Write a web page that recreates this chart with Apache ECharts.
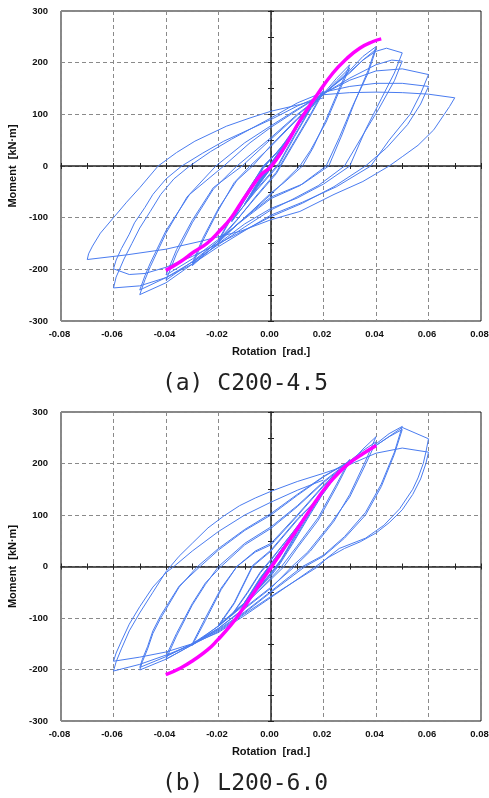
<!DOCTYPE html>
<html>
<head>
<meta charset="utf-8">
<script src="https://cdn.jsdelivr.net/npm/echarts@6/dist/echarts.min.js"></script>
<style>
html,body{margin:0;padding:0;background:#fff;}
#chart{width:489px;height:798px;}
</style>
</head>
<body>
<div id="chart"></div>
<script>
// ---------- data (rotation [rad], moment [kN·m]) ----------
const captionA = '(a) C200-4.5';
const captionB = '(b) L200-6.0';
const xName = 'Rotation  [rad.]';
const yName = 'Moment  [kN·m]';

const loopA = [
 [0,0],
 [0.004,30],[0.001,6],[-0.004,-30],[-0.001,-6],
 [0.004,30],[0.001,5],[-0.004,-29],[-0.001,-5],
 [0.005,38],[0.0015,9],[-0.005,-37],[-0.0015,-8],
 [0.005,37],[0.0015,8],[-0.005,-36],[-0.0015,-8],
 [0.0075,57],[0.003,19],[-0.0075,-55],[-0.003,-18],
 [0.0075,56],[0.003,18],[-0.0075,-54],[-0.003,-17],
 [0.01,76],[0.004,24],[-0.01,-74],[-0.004,-23],
 [0.01,75],[0.004,23],[-0.01,-73],[-0.004,-22],
 [0.015,112],[0.009,60],[0.003,5],[-0.006,-48],[-0.015,-108],[-0.009,-58],[-0.003,-5],[0.006,50],
 [0.015,110],[0.009,57],[0.003,2],[-0.006,-50],[-0.015,-106],[-0.009,-56],[-0.003,-3],[0.006,48],
 [0.013,100],[0.02,146],[0.015,100],[0.008,40],[0.002,-12],[-0.006,-60],[-0.013,-105],[-0.02,-146],
 [-0.015,-100],[-0.008,-42],[-0.003,0],[0.003,30],[0.012,95],[0.02,143],
 [0.015,97],[0.008,37],[0.002,-15],[-0.006,-62],[-0.013,-104],[-0.02,-143],
 [-0.015,-98],[-0.008,-40],[-0.003,-2],[0.004,35],[0.012,92],[0.02,140],
 [0.025,170],[0.03,196],[0.026,150],[0.021,90],[0.016,35],[0.012,0],[0.005,-32],[0,-52],[-0.01,-100],[-0.02,-148],[-0.03,-193],
 [-0.026,-145],[-0.02,-85],[-0.014,-32],[-0.008,0],[0,38],[0.01,90],[0.02,138],[0.025,165],[0.03,190],
 [0.026,145],[0.021,85],[0.015,30],[0.011,0],[0.004,-35],[0,-55],[-0.01,-100],[-0.02,-145],[-0.03,-188],
 [-0.026,-140],[-0.02,-82],[-0.013,-28],[-0.007,0],[0,40],[0.01,92],[0.02,138],
 [0.03,185],[0.035,212],[0.04,231],
 [0.037,185],[0.032,125],[0.027,60],[0.022,0],[0.012,-35],[0,-60],[-0.01,-100],[-0.02,-145],[-0.03,-185],[-0.04,-221],
 [-0.036,-170],[-0.03,-110],[-0.022,-45],[-0.013,0],[0,55],[0.01,100],[0.02,140],[0.03,182],[0.035,205],[0.04,226],
 [0.037,180],[0.031,115],[0.026,55],[0.021,0],[0.011,-38],[0,-63],[-0.01,-102],[-0.02,-142],[-0.03,-180],[-0.04,-211],
 [-0.036,-162],[-0.03,-105],[-0.022,-42],[-0.011,0],[0,52],[0.01,98],[0.02,140],[0.03,180],
 [0.035,205],[0.04,222],[0.044,228],[0.05,219],
 [0.047,180],[0.042,130],[0.036,70],[0.03,0],[0.02,-35],[0.01,-62],[0,-82],[-0.01,-112],[-0.02,-150],[-0.03,-190],[-0.04,-226],[-0.05,-249],
 [-0.048,-220],[-0.046,-195],[-0.04,-130],[-0.032,-60],[-0.021,0],[-0.01,45],[0,78],[0.01,110],[0.02,140],[0.03,170],[0.04,196],[0.046,205],[0.05,203],
 [0.047,165],[0.041,110],[0.035,60],[0.028,0],[0.018,-38],[0.008,-65],[0,-85],[-0.01,-118],[-0.02,-152],[-0.03,-186],[-0.04,-216],[-0.05,-240],
 [-0.048,-212],[-0.046,-188],[-0.04,-125],[-0.031,-55],[-0.018,0],[-0.008,45],[0,75],[0.01,108],[0.02,140],
 [0.03,166],[0.04,184],[0.05,188],[0.06,177],
 [0.057,140],[0.053,100],[0.045,50],[0.038,0],[0.025,-40],[0.012,-70],[0,-95],[-0.01,-125],[-0.02,-156],[-0.03,-190],[-0.04,-216],[-0.05,-232],[-0.06,-236],
 [-0.059,-215],[-0.056,-180],[-0.053,-150],[-0.05,-120],[-0.046,-88],[-0.042,-55],[-0.037,-25],[-0.031,0],[-0.023,28],[-0.015,52],[0,93],[0.01,122],[0.02,143],[0.03,154],[0.04,160],[0.05,160],[0.06,154],
 [0.057,120],[0.052,80],[0.044,35],[0.036,0],[0.024,-40],[0.012,-72],[0,-98],[-0.01,-124],[-0.02,-150],[-0.03,-175],[-0.04,-196],[-0.048,-208],[-0.054,-210],[-0.06,-199],
 [-0.059,-182],[-0.057,-160],[-0.054,-132],[-0.052,-110],[-0.048,-80],[-0.045,-55],[-0.04,-25],[-0.034,0],[-0.026,25],[-0.018,48],[0,90],[0.01,116],[0.02,138],
 [0.03,142],[0.04,143],[0.05,142],[0.06,139],[0.07,132],
 [0.068,115],[0.066,100],[0.062,70],[0.056,40],[0.05,18],[0.045,0],[0.035,-30],[0.024,-55],[0.011,-88],[0,-104],[-0.0115,-126],[-0.027,-146],[-0.04,-161],[-0.055,-172],[-0.07,-181],
 [-0.0695,-170],[-0.068,-155],[-0.065,-130],[-0.06,-100],[-0.055,-70],[-0.05,-42],[-0.043,0],[-0.036,26],[-0.029,48],[-0.017,77],[-0.008,93],[0,106],[0.011,119],[0.02,132]
];

const backboneA = [
 [-0.0401,-202],[-0.0344,-185],[-0.0293,-166],[-0.0242,-149],[-0.0191,-123],[-0.0153,-101],
 [-0.0115,-72],[-0.0076,-43],[-0.0038,-17],[0,-1],[0.0057,41],[0.0108,86],[0.0172,135],
 [0.0236,180],[0.0287,207],[0.0338,228],[0.0389,241],[0.042,246]
];

const loopB = [
 [0,0],
 [0.004,30],[0.001,6],[-0.004,-29],[-0.001,-6],
 [0.004,30],[0.001,6],[-0.004,-29],[-0.001,-5],
 [0.005,38],[0.0015,9],[-0.005,-36],[-0.0015,-8],
 [0.005,37],[0.0015,8],[-0.005,-36],[-0.0015,-8],
 [0.0075,57],[0.003,19],[-0.0075,-53],[-0.003,-17],
 [0.0075,56],[0.003,18],[-0.0075,-52],[-0.003,-16],
 [0.01,76],[0.004,25],[-0.01,-70],[-0.004,-22],
 [0.01,75],[0.004,24],[-0.01,-69],[-0.004,-21],
 [0.008,58],[0.015,110],[0.01,68],[0.004,15],[0,-12],[-0.007,-55],[-0.015,-95],[-0.009,-52],[-0.004,-12],[0,12],[0.007,58],
 [0.015,108],[0.01,66],[0.004,13],[0,-14],[-0.007,-56],[-0.015,-94],[-0.009,-50],[-0.004,-10],[0,14],[0.007,58],
 [0.014,105],[0.02,146],[0.015,105],[0.008,45],[0.003,5],[0,-15],[-0.01,-70],[-0.02,-116],
 [-0.014,-72],[-0.007,0],[0,30],[0.01,90],[0.02,143],
 [0.015,102],[0.008,42],[0.003,2],[0,-18],[-0.01,-70],[-0.02,-114],
 [-0.014,-70],[-0.007,2],[0,32],[0.01,92],[0.02,142],
 [0.025,178],[0.03,208],[0.025,160],[0.018,95],[0.01,40],[0.004,0],[0,-22],[-0.01,-72],[-0.02,-115],[-0.03,-153],
 [-0.025,-105],[-0.019,-45],[-0.013,0],[-0.006,30],[0,45],[0.01,100],[0.02,158],[0.025,182],[0.03,205],
 [0.025,155],[0.018,90],[0.01,36],[0.005,0],[0,-25],[-0.01,-74],[-0.02,-116],[-0.03,-150],
 [-0.025,-100],[-0.019,-42],[-0.013,0],[-0.006,28],[0,42],[0.01,98],[0.02,156],[0.03,200],
 [0.035,228],[0.04,252],
 [0.036,205],[0.03,140],[0.024,88],[0.015,30],[0.009,0],[0,-40],[-0.01,-80],[-0.02,-120],[-0.03,-152],[-0.04,-180],
 [-0.036,-135],[-0.03,-75],[-0.025,-35],[-0.02,0],[-0.01,45],[0,77],[0.01,118],[0.02,165],[0.03,205],[0.035,225],[0.04,242],
 [0.036,198],[0.03,135],[0.023,85],[0.014,28],[0.008,0],[0,-42],[-0.01,-82],[-0.02,-120],[-0.03,-150],[-0.04,-174],
 [-0.036,-130],[-0.03,-72],[-0.025,-32],[-0.019,0],[-0.01,42],[0,74],[0.01,116],[0.02,163],[0.03,203],[0.04,238],
 [0.045,258],[0.05,272],
 [0.047,222],[0.042,160],[0.036,105],[0.028,58],[0.02,22],[0.012,0],[0,-48],[-0.01,-88],[-0.02,-122],[-0.03,-152],[-0.04,-180],[-0.05,-201],
 [-0.049,-185],[-0.047,-160],[-0.045,-130],[-0.042,-100],[-0.035,-40],[-0.028,0],[-0.02,35],[-0.01,72],[0,103],[0.01,140],[0.02,175],[0.03,205],[0.04,235],[0.045,252],[0.05,266],
 [0.047,218],[0.042,155],[0.036,100],[0.028,55],[0.02,20],[0.013,0],[0,-50],[-0.01,-90],[-0.02,-124],[-0.03,-150],[-0.04,-175],[-0.05,-196],
 [-0.049,-180],[-0.047,-155],[-0.045,-125],[-0.042,-95],[-0.035,-38],[-0.027,0],[-0.02,32],[-0.01,70],[0,100],[0.01,138],[0.02,174],[0.03,204],[0.04,235],[0.05,270],
 [0.06,248],
 [0.059,222],[0.058,200],[0.056,172],[0.054,150],[0.049,112],[0.043,80],[0.036,55],[0.026,35],[0.021,15],[0.018,0],[0.008,-32],[0,-58],[-0.01,-92],[-0.02,-126],[-0.03,-152],[-0.04,-172],[-0.05,-190],[-0.06,-203],
 [-0.059,-185],[-0.057,-160],[-0.054,-125],[-0.05,-90],[-0.045,-50],[-0.04,-10],[-0.035,20],[-0.03,45],[-0.024,75],[-0.018,98],[-0.012,118],[-0.006,133],[0,146],[0.01,165],[0.02,181],[0.03,198],[0.04,220],[0.05,230],[0.06,222],
 [0.059,200],[0.057,170],[0.054,140],[0.05,110],[0.045,85],[0.04,65],[0.034,48],[0.028,35],[0.022,18],[0.017,0],[0.008,-32],[0,-60],[-0.01,-95],[-0.02,-128],[-0.03,-150],[-0.04,-166],[-0.05,-176],[-0.06,-184],
 [-0.059,-168],[-0.057,-145],[-0.054,-112],[-0.05,-78],[-0.045,-40],[-0.04,-12],[-0.037,0],[-0.03,30],[-0.02,68],[-0.01,100],[0,125],[0.01,148],[0.02,168]
];

const backboneB = [
 [-0.0401,-210],[-0.0344,-197],[-0.0293,-181],[-0.0242,-162],[-0.0204,-143],[-0.0153,-114],
 [-0.0115,-88],[-0.0076,-59],[-0.0038,-30],[0,-2],[0.0032,22],[0.0057,41],[0.0096,70],
 [0.0134,99],[0.0172,128],[0.02,148],[0.0236,170],[0.0274,190],[0.0312,206],[0.035,219],[0.0401,235]
];

// ---------- chart ----------
const FONT = 'Liberation Sans';
const BLUE = '#4a7cf0';
const PINK = '#ff00ff';
const grids = [
  {left:61, top:11, width:420, height:310},
  {left:61, top:412, width:420, height:309}
];

const xAxes = [], yAxes = [];
grids.forEach((g, gi) => {
  xAxes.push({
    gridIndex: gi, type:'value', min:-0.08, max:0.08, interval:0.02, position:'bottom',
    axisLine:{show:false, onZero:false}, axisTick:{show:false},
    axisLabel:{formatter:v=>v.toFixed(2), fontFamily:FONT, fontWeight:'bold', fontSize:9.5, color:'#111', margin:8, padding:[0,3,0,0]},
    splitLine:{show:true, lineStyle:{color:'#8a8a8a', width:1, type:[4,3]}},
    name:xName, nameLocation:'middle', nameGap:25,
    nameTextStyle:{fontFamily:FONT, fontWeight:'bold', fontSize:11, color:'#111'}
  });
  [true,false].forEach(ins => xAxes.push({
    gridIndex: gi, type:'value', min:-0.08, max:0.08, interval:0.01, position:'bottom',
    axisLine:{show:ins, onZero:true, lineStyle:{color:'#222', width:1.5}},
    axisTick:{show:true, inside:ins, length:3, lineStyle:{color:'#222', width:1}},
    axisLabel:{show:false}, splitLine:{show:false}
  }));
  yAxes.push({
    gridIndex: gi, type:'value', min:-300, max:300, interval:100, position:'left',
    axisLine:{show:false, onZero:false}, axisTick:{show:false},
    axisLabel:{fontFamily:FONT, fontWeight:'bold', fontSize:9.5, color:'#111', margin:13},
    splitLine:{show:true, lineStyle:{color:'#8a8a8a', width:1, type:[4,3]}},
    name:yName, nameLocation:'middle', nameGap:42, nameRotate:90,
    nameTextStyle:{fontFamily:FONT, fontWeight:'bold', fontSize:11, color:'#111'}
  });
  [true,false].forEach(ins => yAxes.push({
    gridIndex: gi, type:'value', min:-300, max:300, interval:50, position:'left',
    axisLine:{show:ins, onZero:true, lineStyle:{color:'#222', width:1.5}},
    axisTick:{show:true, inside:ins, length:3, lineStyle:{color:'#222', width:1}},
    axisLabel:{show:false}, splitLine:{show:false}
  }));
});

const chart = echarts.init(document.getElementById('chart'), null, {renderer:'canvas'});
chart.setOption({
  animation:false,
  backgroundColor:'#fff',
  grid: grids.map(g => Object.assign({show:true, borderColor:'#111', borderWidth:1, backgroundColor:'transparent', containLabel:false, outerBoundsMode:'none'}, g)),
  xAxis: xAxes,
  yAxis: yAxes,
  series: [
    {type:'line', xAxisIndex:0, yAxisIndex:0, data:loopA, symbol:'none', lineStyle:{color:BLUE, width:1}, z:3},
    {type:'line', xAxisIndex:0, yAxisIndex:0, data:backboneA, symbol:'none', smooth:true, lineStyle:{color:PINK, width:3.5}, z:4},
    {type:'line', xAxisIndex:3, yAxisIndex:3, data:loopB, symbol:'none', lineStyle:{color:BLUE, width:1}, z:3},
    {type:'line', xAxisIndex:3, yAxisIndex:3, data:backboneB, symbol:'none', smooth:true, lineStyle:{color:PINK, width:3.5}, z:4}
  ],
  graphic: [
    {type:'text', x:245, y:384, style:{text:captionA, font:'23px "DejaVu Sans Mono"', fill:'#222', align:'center', verticalAlign:'middle'}},
    {type:'text', x:245, y:784, style:{text:captionB, font:'23px "DejaVu Sans Mono"', fill:'#222', align:'center', verticalAlign:'middle'}}
  ]
});
</script>
</body>
</html>
